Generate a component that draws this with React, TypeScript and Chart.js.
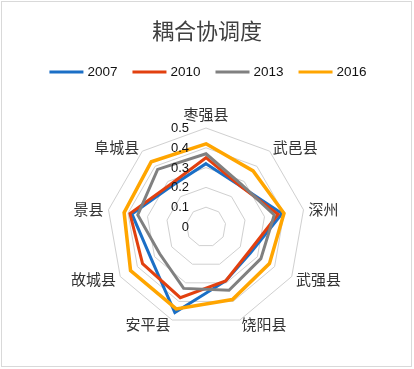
import React, { useEffect, useRef } from "react";
import { Chart, registerables } from "chart.js";

Chart.register(...registerables);

const chartTitle = "耦合协调度";
const categories = ["枣强县", "武邑县", "深州", "武强县", "饶阳县", "安平县", "故城县", "景县", "阜城县"];
const seriesNames = ["2007", "2010", "2013", "2016"];
const values2007 = [0.32, 0.27, 0.39, 0.26, 0.29, 0.46, 0.32, 0.38, 0.27];
const values2010 = [0.35, 0.27, 0.37, 0.25, 0.29, 0.38, 0.37, 0.39, 0.28];
const values2013 = [0.37, 0.28, 0.35, 0.32, 0.34, 0.33, 0.27, 0.35, 0.38];
const values2016 = [0.42, 0.37, 0.40, 0.37, 0.39, 0.44, 0.44, 0.42, 0.43];
const tickValues = [0, 0.1, 0.2, 0.3, 0.4, 0.5];
const tickLabels = ["0", "0.1", "0.2", "0.3", "0.4", "0.5"];
const seriesColors = ["#1b6fc6", "#e2400f", "#808080", "#ffa500"];

const W = 414;
const H = 369;
const CJK = '"Noto Sans CJK SC", "Noto Sans", sans-serif';
const LATIN = '"Liberation Sans", Arial, sans-serif';

const overlayPlugin = {
  id: "overlay",
  beforeDraw(chart: any) {
    const ctx = chart.ctx;
    ctx.save();
    ctx.fillStyle = "#ffffff";
    ctx.fillRect(0, 0, W, H);
    ctx.strokeStyle = "#d9d9d9";
    ctx.lineWidth = 1;
    ctx.strokeRect(1.5, 1.5, W - 4, H - 4);
    ctx.restore();
  },
  afterDatasetsDraw(chart: any) {
    const ctx = chart.ctx;
    const scale = chart.scales.r;
    ctx.save();

    // radial tick labels
    ctx.font = `13px ${LATIN}`;
    ctx.fillStyle = "#111111";
    ctx.textAlign = "right";
    ctx.textBaseline = "middle";
    tickValues.forEach((v, i) => {
      const d = scale.getDistanceFromCenterForValue(v);
      ctx.fillText(tickLabels[i], scale.xCenter - 17, scale.yCenter - d + 0.5);
    });

    // point labels
    const R = scale.drawingArea;
    ctx.font = `15px ${CJK}`;
    ctx.fillStyle = "#333333";
    categories.forEach((c, i) => {
      const deg = (i * 360) / categories.length;
      if (i === 0) {
        const p = scale.getPointPosition(i, R + 14);
        ctx.textAlign = "center";
        ctx.textBaseline = "middle";
        ctx.fillText(c, p.x, p.y);
      } else {
        const p = scale.getPointPosition(i, R + 5);
        ctx.textAlign = deg < 180 ? "left" : "right";
        ctx.textBaseline = "middle";
        ctx.fillText(c, p.x, p.y);
      }
    });

    // title
    ctx.font = `22px ${CJK}`;
    ctx.fillStyle = "#404040";
    ctx.textAlign = "center";
    ctx.textBaseline = "middle";
    ctx.fillText(chartTitle, W / 2, 31);

    // legend
    ctx.font = `13.5px ${LATIN}`;
    const lineLen = 34;
    const gapText = 4;
    const gapItem = 15;
    const widths = seriesNames.map((s) => lineLen + gapText + ctx.measureText(s).width);
    const total = widths.reduce((a, b) => a + b, 0) + gapItem * (seriesNames.length - 1);
    let x = (W - total) / 2 + 1;
    const ly = 72;
    seriesNames.forEach((s, i) => {
      ctx.strokeStyle = seriesColors[i];
      ctx.lineWidth = 3;
      ctx.beginPath();
      ctx.moveTo(x, ly);
      ctx.lineTo(x + lineLen, ly);
      ctx.stroke();
      ctx.fillStyle = "#111111";
      ctx.textAlign = "left";
      ctx.textBaseline = "middle";
      ctx.fillText(s, x + lineLen + gapText, ly + 0.5);
      x += widths[i] + gapItem;
    });

    ctx.restore();
  },
};

export default function App() {
  const ref = useRef<HTMLCanvasElement | null>(null);

  useEffect(() => {
    if (!ref.current) return;
    const allValues = [values2007, values2010, values2013, values2016];
    const chart = new Chart(ref.current, {
      type: "radar",
      data: {
        labels: categories,
        datasets: seriesNames.map((name, i) => ({
          label: name,
          data: allValues[i],
          borderColor: seriesColors[i],
          backgroundColor: "transparent",
          borderWidth: i === 3 ? 3.5 : 3,
          pointRadius: 0,
          pointHoverRadius: 0,
          fill: false,
          order: 4 - i,
          tension: 0,
        })),
      },
      options: {
        responsive: false,
        animation: false,
        devicePixelRatio: 1,
        layout: { padding: { left: 107, right: 109, top: 128, bottom: 43 } },
        plugins: {
          legend: { display: false },
          title: { display: false },
          tooltip: { enabled: false },
        },
        scales: {
          r: {
            min: 0,
            max: 0.5,
            ticks: { display: false, stepSize: 0.1 },
            grid: { color: "#d0d0d0", lineWidth: 1 },
            angleLines: { display: false },
            pointLabels: { display: false },
          },
        },
      },
      plugins: [overlayPlugin],
    } as any);
    return () => chart.destroy();
  }, []);

  return (
    <div style={{ position: "absolute", left: 0, top: 0, width: W, height: H, background: "#fff" }}>
      <canvas ref={ref} width={W} height={H} style={{ width: W, height: H, display: "block" }} />
    </div>
  );
}
